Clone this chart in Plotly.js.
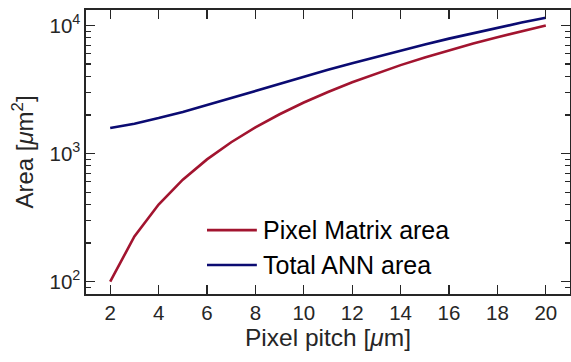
<!DOCTYPE html>
<html>
<head>
<meta charset="utf-8">
<script src="https://cdn.plot.ly/plotly-3.0.1.min.js"></script>
<style>html,body{margin:0;padding:0;background:#fff;}#chart{width:571px;height:362px;}</style>
</head>
<body>
<div id="chart"></div>
<script>
// Pixel pitch in micrometres
const pitch = [2, 3, 4, 5, 6, 7, 8, 9, 10, 11, 12, 13, 14, 15, 16, 17, 18, 19, 20];
// Area of the pixel matrix, um^2
const pixelMatrixArea = [100, 225, 400, 625, 900, 1225, 1600, 2025, 2500, 3025, 3600, 4225, 4900, 5625, 6400, 7225, 8100, 9025, 10000];
// Total area of the ANN, um^2
const totalAnnArea = [1580, 1710, 1890, 2110, 2390, 2720, 3090, 3510, 3980, 4500, 5070, 5700, 6380, 7110, 7890, 8720, 9600, 10530, 11500];

const seriesNames = ['Pixel Matrix area', 'Total ANN area'];
const seriesColors = ['#A2142F', '#0B0B72'];
const xTicks = [2, 4, 6, 8, 10, 12, 14, 16, 18, 20];
const yTicks = [100, 1000, 10000];
const yTickText = ['10<sup>2</sup>', '10<sup>3</sup>', '10<sup>4</sup>'];
const yMinorTicks = [80, 90, 200, 300, 400, 500, 600, 700, 800, 900,
                     2000, 3000, 4000, 5000, 6000, 7000, 8000, 9000];

const font = 'Liberation Sans, Arial, sans-serif';
const axisColor = '#262626';

const traces = seriesNames.map((name, i) => ({
  x: pitch, y: i === 0 ? pixelMatrixArea : totalAnnArea, name: name, mode: 'lines',
  line: {color: seriesColors[i], width: 2.6}
}));

// Legend drawn in paper coordinates: a short line sample plus its label per series
const legendRowsY = [0.225, 0.102];
const shapes = seriesNames.map((name, i) => ({
  type: 'line', xref: 'paper', yref: 'paper', x0: 0.25, x1: 0.353,
  y0: legendRowsY[i], y1: legendRowsY[i], line: {color: seriesColors[i], width: 2.6}
}));
const annotations = seriesNames.map((name, i) => ({
  text: name, xref: 'paper', yref: 'paper', x: 0.362, y: legendRowsY[i],
  xanchor: 'left', yanchor: 'middle', showarrow: false,
  font: {family: font, size: 25, color: '#000'}
}));

const layout = {
  width: 571, height: 362,
  margin: {l: 86, r: 1, t: 10, b: 68},
  paper_bgcolor: '#fff', plot_bgcolor: '#fff',
  font: {family: font, color: axisColor, size: 20},
  showlegend: false,
  shapes: shapes,
  annotations: annotations,
  xaxis: {
    range: [1, 21], tickvals: xTicks, ticks: 'inside', ticklen: 9, tickwidth: 1.3,
    tickcolor: axisColor, showline: true, linecolor: axisColor, linewidth: 1.6, mirror: 'allticks',
    showgrid: false, zeroline: false, tickfont: {size: 20.5},
    title: {text: 'Pixel pitch [<i>μ</i>m]', font: {size: 24.5}, standoff: 5}
  },
  yaxis: {
    type: 'log', range: [Math.log10(80), Math.log10(13200)],
    tickvals: yTicks, ticktext: yTickText, ticks: 'inside', ticklen: 9, tickwidth: 1.3,
    tickcolor: axisColor, showline: true, linecolor: axisColor, linewidth: 1.6, mirror: 'allticks',
    showgrid: false, zeroline: false, tickfont: {size: 20.5},
    minor: {ticks: 'inside', ticklen: 5, tickcolor: axisColor, tickwidth: 1.1, showgrid: false,
            tickvals: yMinorTicks},
    title: {text: 'Area [<i>μ</i>m<sup>2</sup>]', font: {size: 24}, standoff: 9}
  }
};

Plotly.newPlot('chart', traces, layout, {displayModeBar: false, staticPlot: true});
</script>
</body>
</html>
